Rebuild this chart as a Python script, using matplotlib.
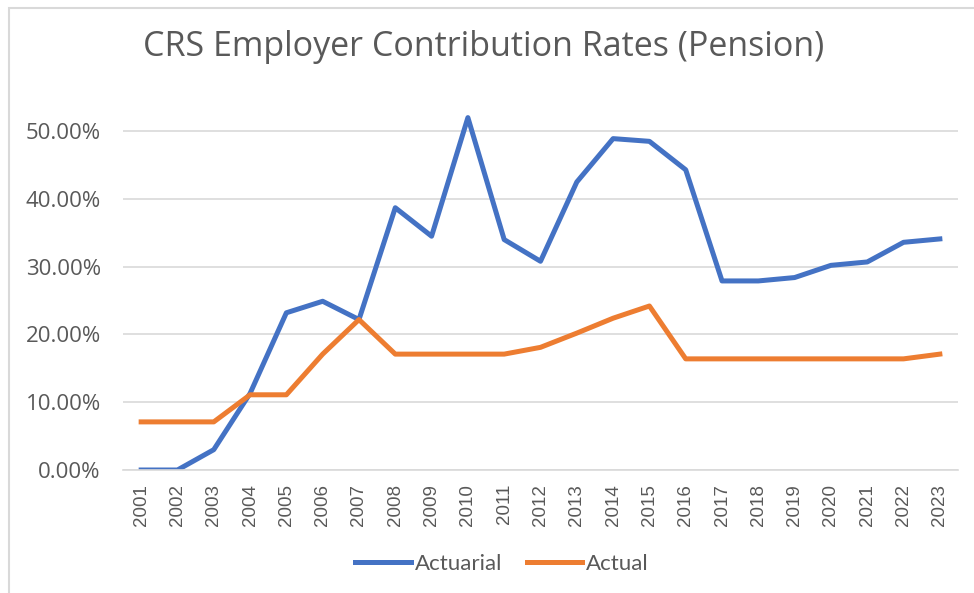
import matplotlib
matplotlib.use("Agg")
import matplotlib.pyplot as plt
from matplotlib.ticker import PercentFormatter
from matplotlib.patches import Rectangle

years = [str(y) for y in range(2001, 2024)]
actuarial = [0.0, 0.0, 3.0, 11.3, 23.2, 24.9, 22.2, 38.7, 34.5, 52.0, 34.0, 30.8,
             42.5, 48.9, 48.5, 44.3, 27.9, 27.9, 28.4, 30.2, 30.7, 33.6, 34.1]
actual = [7.1, 7.1, 7.1, 11.1, 11.1, 17.1, 22.2, 17.1, 17.1, 17.1, 17.1, 18.1,
          20.2, 22.4, 24.2, 16.4, 16.4, 16.4, 16.4, 16.4, 16.4, 16.4, 17.1]
yticks = [0, 10, 20, 30, 40, 50]

blue = "#4472C4"
orange = "#ED7D31"
gray = "#595959"

fig = plt.figure(figsize=(9.74, 5.93), dpi=100)
ax = fig.add_axes([123 / 974, 1 - 470 / 593, 835 / 974, 370 / 593])

x = list(range(len(years)))
ax.plot(x, actuarial, color=blue, lw=3.6, label="Actuarial", solid_joinstyle="round")
ax.plot(x, actual, color=orange, lw=3.6, label="Actual", solid_joinstyle="round")

ax.set_xlim(-0.5, len(years) - 0.5)
ax.set_ylim(0, 54.6)
ax.set_yticks(yticks)
ax.yaxis.set_major_formatter(PercentFormatter(decimals=2))
ax.set_xticks(x)
ax.set_xticklabels(years, rotation=90, fontsize=13.5, color=gray, family="Liberation Sans")
for lab in ax.get_yticklabels():
    lab.set_fontsize(16)
    lab.set_color(gray)
    lab.set_family("Open Sans")
ax.tick_params(axis="x", length=0, pad=10)
ax.tick_params(axis="y", length=0, pad=16)
ax.grid(axis="y", color="#D9D9D9", lw=1.2)
ax.set_axisbelow(True)
for s in ["top", "right", "left"]:
    ax.spines[s].set_visible(False)
ax.spines["bottom"].set_color("#D9D9D9")
ax.spines["bottom"].set_linewidth(1.2)

fig.text(484 / 974, 1 - 47 / 593, "CRS Employer Contribution Rates (Pension)",
         ha="center", va="center", fontsize=24.5, color=gray, family="Open Sans")

leg = fig.legend(loc="center", bbox_to_anchor=(502 / 974, 1 - 564 / 593), ncol=2,
                 frameon=False, handlelength=2.5, handletextpad=0.18,
                 columnspacing=1.1, prop={"family": "Lato", "size": 16})
for t in leg.get_texts():
    t.set_color(gray)

# chart frame (only left and top edges visible in the crop)
fig.patches.append(Rectangle((9 / 974, -0.1), 1.2, 1 - 8 / 593 + 0.1,
                             transform=fig.transFigure, fill=False,
                             edgecolor="#D9D9D9", lw=1.5))

fig.savefig("out.png", dpi=100)
